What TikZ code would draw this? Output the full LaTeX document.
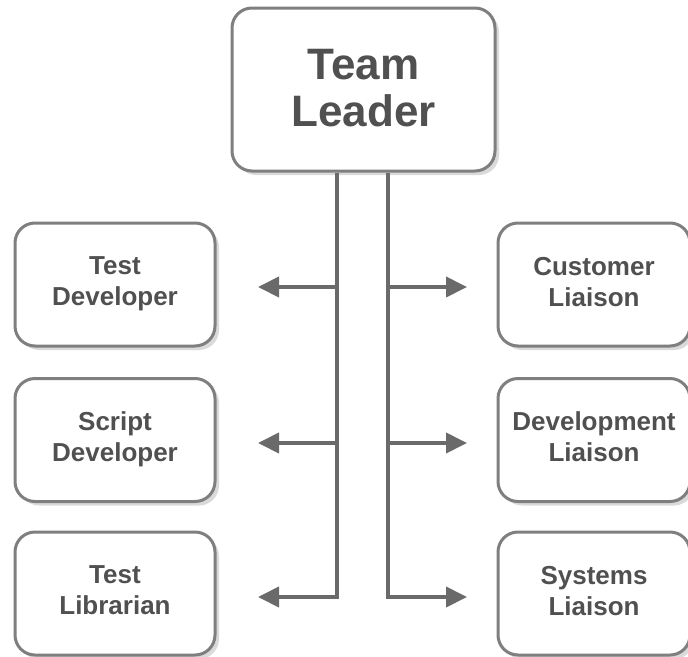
\documentclass[tikz,border=0pt]{standalone}
\usepackage{fontspec}
\setmainfont{Liberation Sans}
\usetikzlibrary{arrows.meta,shadows}

\definecolor{boxgray}{HTML}{7F7F7F}
\definecolor{linegray}{HTML}{6A6A6A}
\definecolor{textgray}{HTML}{505050}
\definecolor{shadowgray}{HTML}{DADADA}

\tikzset{
    rolebox/.style={draw=boxgray, line width=3pt, fill=white, rounded corners=20pt,
        align=center, text=textgray, font=\fontsize{26}{31}\selectfont\bfseries,
        drop shadow={shadow xshift=4pt, shadow yshift=-4pt, fill=shadowgray, opacity=1},
        minimum width=200pt, minimum height=123pt, inner sep=0pt, text depth=6pt},
    leadbox/.style={rolebox, minimum width=263pt, minimum height=163pt,
        font=\fontsize{44}{47}\selectfont\bfseries, text depth=4pt},
    link/.style={draw=linegray, line width=4pt, -{Triangle[length=21pt,width=20pt]}}
}

\begin{document}
\begin{tikzpicture}[x=1pt, y=-1pt]
            \useasboundingbox (0,0) rectangle (688,656);

            \node[leadbox] (lead) at (363.5,89.5) {Team\\Leader}; % Team Leader

            \node[rolebox] (tdev) at (115,284.5) {Test\\Developer}; % left column
            \node[rolebox] (sdev) at (115,440) {Script\\Developer};
            \node[rolebox] (tlib) at (115,593.5) {Test\\Librarian};

            \node[rolebox, minimum width=192pt] (cust) at (594,284.5) {Customer\\Liaison}; % right column
            \node[rolebox, minimum width=192pt] (devl) at (594,440) {Development\\Liaison};
            \node[rolebox, minimum width=192pt] (syst) at (594,593.5) {Systems\\Liaison};

            \coordinate (ltrunk) at (337,0);
            \coordinate (rtrunk) at (388,0);

            \coordinate (tdevtip) at (258,287); % free arrow ends
            \coordinate (sdevtip) at (258,443);
            \coordinate (tlibtip) at (258,597);
            \coordinate (custtip) at (467,287);
            \coordinate (devltip) at (467,443);
            \coordinate (systtip) at (467,597);

            \draw[link] (lead.south -| ltrunk) |- (tlibtip); % left trunk
            \draw[link] (ltrunk |- tdevtip) -- (tdevtip);
            \draw[link] (ltrunk |- sdevtip) -- (sdevtip);

            \draw[link] (lead.south -| rtrunk) |- (systtip); % right trunk
            \draw[link] (rtrunk |- custtip) -- (custtip);
            \draw[link] (rtrunk |- devltip) -- (devltip);

        \end{tikzpicture}
\end{document}
